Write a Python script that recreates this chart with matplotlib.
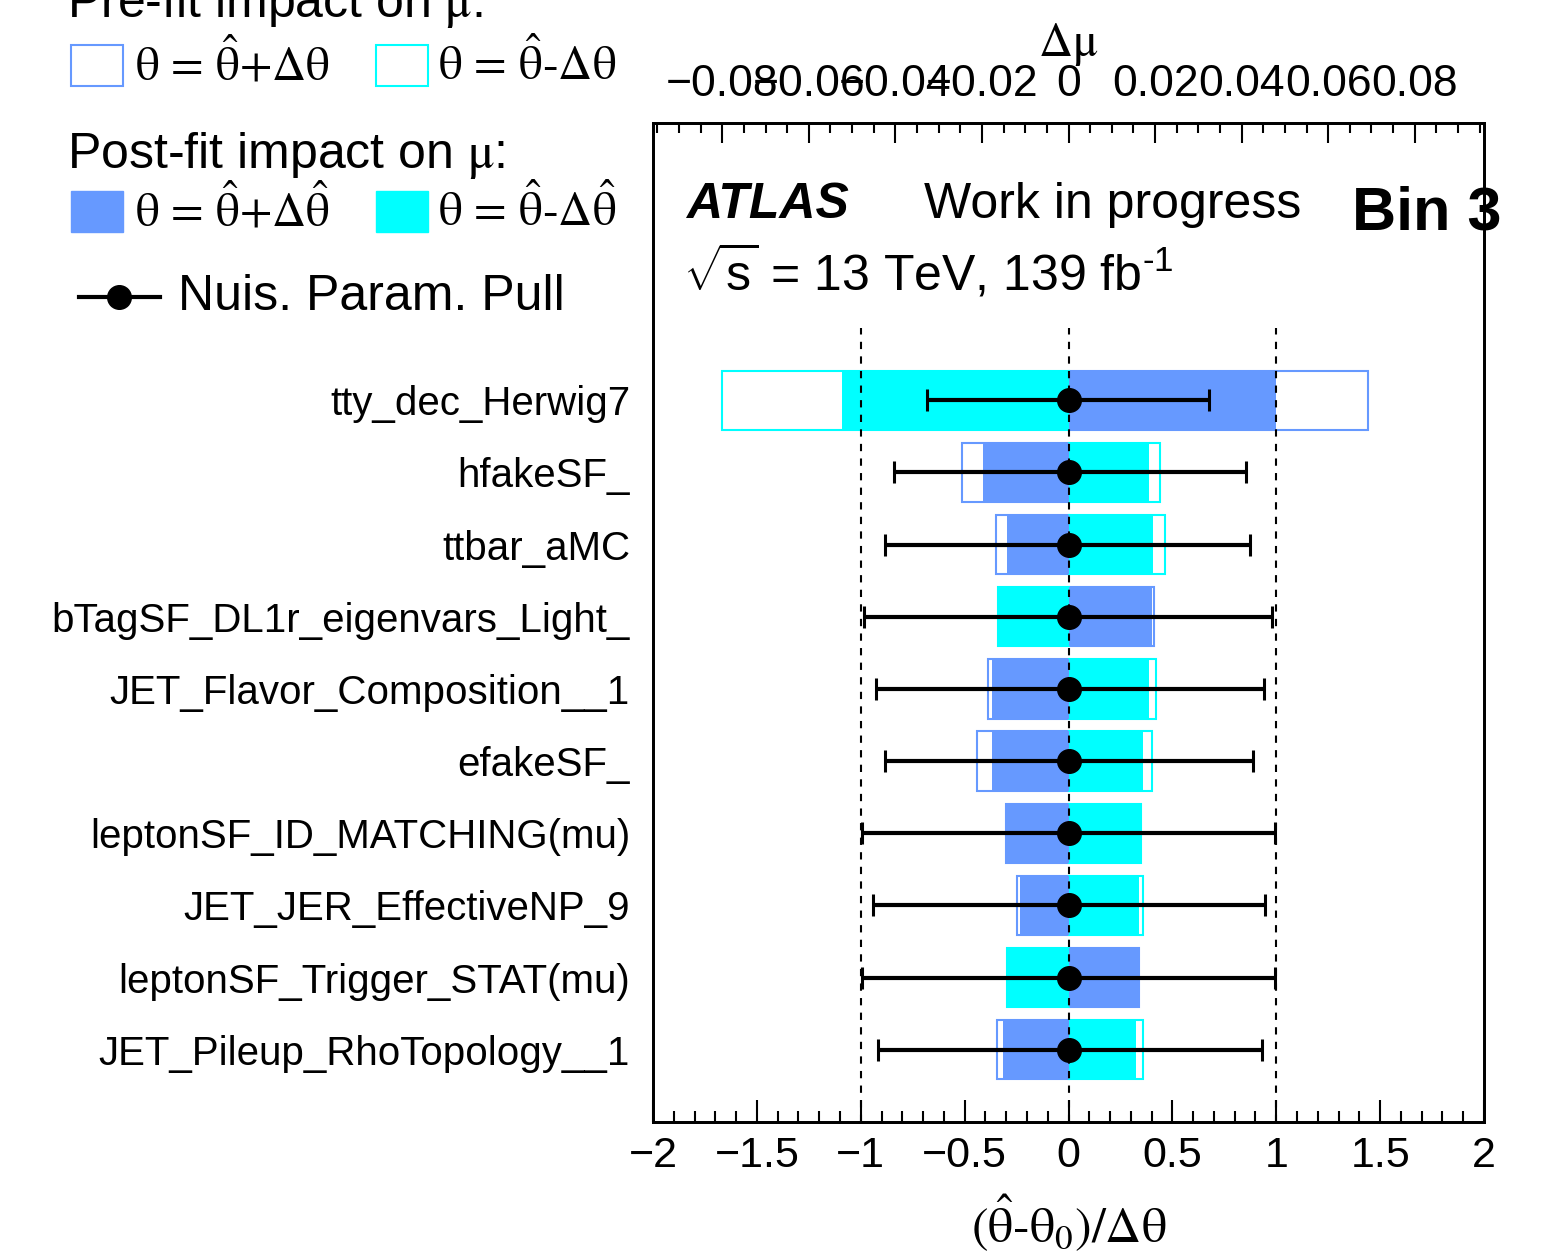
import matplotlib
matplotlib.use('Agg')
import matplotlib.pyplot as plt
from matplotlib.patches import Rectangle
from matplotlib.lines import Line2D
from matplotlib.ticker import MultipleLocator
from matplotlib.transforms import Bbox, TransformedBbox
import numpy as np

plt.rcParams['font.family'] = 'Liberation Sans'
plt.rcParams['mathtext.fontset'] = 'stix'
# sans maths for the sqrt(s) line
plt.rcParams['mathtext.rm'] = 'Liberation Sans'
plt.rcParams['mathtext.it'] = 'Liberation Sans:italic'
plt.rcParams['mathtext.bf'] = 'Liberation Sans:bold'

# nuisance parameters, ranked top to bottom
params = ['tty_dec_Herwig7', 'hfakeSF_', 'ttbar_aMC', 'bTagSF_DL1r_eigenvars_Light_',
          'JET_Flavor_Composition__1', 'efakeSF_', 'leptonSF_ID_MATCHING(mu)',
          'JET_JER_EffectiveNP_9', 'leptonSF_Trigger_STAT(mu)', 'JET_Pileup_RhoTopology__1']

# impact on mu (top axis)
prefit_up = [0.0691, -0.0246, -0.0167, 0.0197, -0.0185, -0.0212, -0.0144, -0.0118, 0.0162, -0.0165]
prefit_down = [-0.0800, 0.0212, 0.0224, -0.0164, 0.0202, 0.0193, 0.0167, 0.0172, -0.0143, 0.0171]
postfit_up = [0.0479, -0.0198, -0.0141, 0.0194, -0.0176, -0.0177, -0.0143, -0.0113, 0.0161, -0.0152]
postfit_down = [-0.0524, 0.0186, 0.0196, -0.0163, 0.0187, 0.0172, 0.0166, 0.0164, -0.0142, 0.0155]

# pulls (bottom axis)
pull = [0.0, 0.0, 0.0, 0.0, 0.0, 0.0, 0.0, 0.0, 0.0, 0.0]
pull_err_lo = [0.683, 0.839, 0.884, 0.982, 0.927, 0.882, 0.993, 0.942, 0.993, 0.919]
pull_err_hi = [0.674, 0.854, 0.875, 0.978, 0.941, 0.886, 0.994, 0.946, 0.994, 0.930]

pull_ticks = [-2, -1.5, -1, -0.5, 0, 0.5, 1, 1.5, 2]
pull_ticklabels = ['\u22122', '\u22121.5', '\u22121', '\u22120.5', '0', '0.5', '1', '1.5', '2']
mu_ticks = [-0.08, -0.06, -0.04, -0.02, 0, 0.02, 0.04, 0.06, 0.08]
mu_ticklabels = ['\u22120.08', '\u22120.06', '\u22120.04', '\u22120.02', '0', '0.02', '0.04', '0.06', '0.08']

blue = '#6699ff'
cyan = '#00ffff'
W, H = 1548, 1259


def px(x, y):
    return x / W, 1 - y / H


fig = plt.figure(figsize=(W / 100, H / 100), dpi=100)
ax = fig.add_axes([653 / W, 1 - 1122 / H, (1484 - 653) / W, (1122 - 123) / H])
axt = ax.twiny()
ax.set_zorder(axt.get_zorder() + 1)
ax.patch.set_visible(False)

ypos = np.arange(len(params), 0, -1)
bh = 0.82
axt.barh(ypos, prefit_up, height=bh, color='white', edgecolor=blue, linewidth=1.5)
axt.barh(ypos, prefit_down, height=bh, color='white', edgecolor=cyan, linewidth=1.5)
axt.barh(ypos, postfit_up, height=bh, color=blue, linewidth=0)
axt.barh(ypos, postfit_down, height=bh, color=cyan, linewidth=0)
axt.set_xlim(-0.096, 0.096)

ax.vlines([-1, 0, 1], 0, len(params) + 1, colors='k', linestyles=(0, (3.5, 3.5)), linewidth=1.5)
ax.errorbar(pull, ypos, xerr=[pull_err_lo, pull_err_hi], fmt='o', color='k', ms=17,
            elinewidth=3, capsize=8, capthick=2.2, zorder=3)

ax.set_xlim(-2, 2)
ax.set_ylim(0, 13.84)
ax.set_xticks(pull_ticks)
ax.set_xticklabels(pull_ticklabels)
ax.xaxis.set_minor_locator(MultipleLocator(0.1))
ax.tick_params(axis='x', which='major', direction='in', length=15.8, width=1.5,
               labelsize=31, pad=10, top=False)
ax.tick_params(axis='x', which='minor', direction='in', length=7.9, width=1.5, top=False)
ax.set_yticks(ypos)
ax.set_yticklabels(params)
ax.tick_params(axis='y', length=0, labelsize=29, pad=16.5)
clip = TransformedBbox(Bbox([[48 / W, 0], [1, 1]]), fig.transFigure)
for lab in ax.get_yticklabels():
    lab.set_clip_box(clip)
    lab.set_clip_on(True)
ax.set_xlabel(r'$(\hat{\mathrm{\theta}}\text{-}\mathrm{\theta}_{0})/\Delta\mathrm{\theta}$',
              fontsize=36, labelpad=12)

axt.set_xticks(mu_ticks)
axt.set_xticklabels(mu_ticklabels)
axt.xaxis.set_minor_locator(MultipleLocator(0.005))
axt.tick_params(axis='x', which='major', direction='in', length=14.4, width=1.5,
                labelsize=32, pad=13, bottom=False)
axt.tick_params(axis='x', which='minor', direction='in', length=7.2, width=1.5, bottom=False)
axt.tick_params(axis='y', left=False, right=False, labelleft=False)
axt.set_xlabel(r'$\Delta\mathrm{\mu}$', fontsize=34, labelpad=6)

for a in (ax, axt):
    for s in a.spines.values():
        s.set_linewidth(2)

# labels inside the frame
fig.text(*px(686, 218), 'ATLAS', fontsize=36, fontweight='bold', fontstyle='italic')
fig.text(*px(924, 218), 'Work in progress', fontsize=36)
fig.text(*px(1352, 229), 'Bin 3', fontsize=44, fontweight='bold')
fig.text(*px(683, 290), r'$\sqrt{\mathrm{s}}$ = 13 TeV, 139 fb$^{\text{-1}}$', fontsize=36,
         math_fontfamily='custom')

# legend
fig.text(*px(67, 17), r'Pre-fit impact on $\mathrm{\mu}$:', fontsize=36)
fig.text(*px(67, 168), r'Post-fit impact on $\mathrm{\mu}$:', fontsize=36)
for x0, col in ((71, blue), (376, cyan)):
    fig.add_artist(Rectangle(px(x0, 86), 52 / W, 41 / H, transform=fig.transFigure,
                             facecolor='white', edgecolor=col, linewidth=1.5))
    fig.add_artist(Rectangle(px(x0, 232), 52 / W, 41 / H, transform=fig.transFigure,
                             facecolor=col, edgecolor=col, linewidth=1))
fig.text(*px(135, 80), r'$\mathrm{\theta\,=\,\hat{\theta}{+}\Delta\theta}$', fontsize=34)
fig.text(*px(438, 80), r'$\mathrm{\theta\,=\,\hat{\theta}}\text{-}\mathrm{\Delta\theta}$', fontsize=34)
fig.text(*px(135, 226), r'$\mathrm{\theta\,=\,\hat{\theta}{+}\Delta\hat{\theta}}$', fontsize=34)
fig.text(*px(438, 226), r'$\mathrm{\theta\,=\,\hat{\theta}}\text{-}\mathrm{\Delta\hat{\theta}}$', fontsize=34)
fig.add_artist(Line2D([79 / W, 160 / W], [1 - 297 / H] * 2, transform=fig.transFigure,
                      color='k', linewidth=3))
fig.add_artist(Line2D([119 / W], [1 - 297 / H], transform=fig.transFigure,
                      color='k', marker='o', ms=17))
fig.text(*px(178, 310), 'Nuis. Param. Pull', fontsize=36)

fig.savefig('out.png', dpi=100)
